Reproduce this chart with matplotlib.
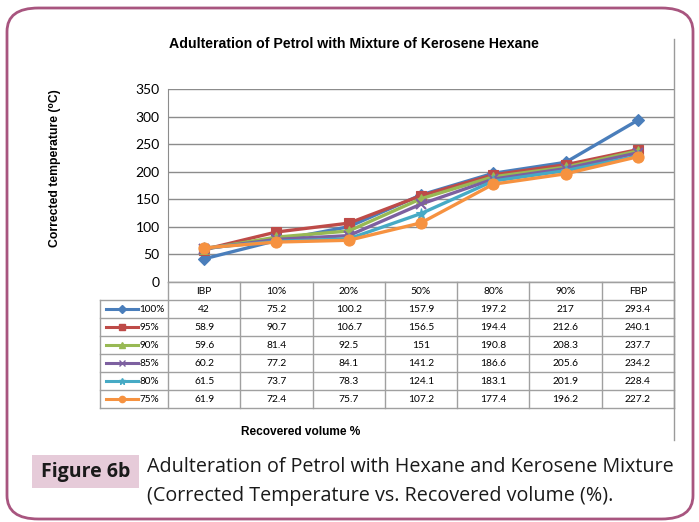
import matplotlib
matplotlib.use("Agg")
import matplotlib.pyplot as plt
from matplotlib.patches import FancyBboxPatch, Rectangle
from matplotlib.lines import Line2D

categories = ["IBP", "10%", "20%", "50%", "80%", "90%", "FBP"]
series_names = ["100%", "95%", "90%", "85%", "80%", "75%"]
s100 = [42, 75.2, 100.2, 157.9, 197.2, 217, 293.4]
s95 = [58.9, 90.7, 106.7, 156.5, 194.4, 212.6, 240.1]
s90 = [59.6, 81.4, 92.5, 151, 190.8, 208.3, 237.7]
s85 = [60.2, 77.2, 84.1, 141.2, 186.6, 205.6, 234.2]
s80 = [61.5, 73.7, 78.3, 124.1, 183.1, 201.9, 228.4]
s75 = [61.9, 72.4, 75.7, 107.2, 177.4, 196.2, 227.2]
series = [s100, s95, s90, s85, s80, s75]
yticks = [0, 50, 100, 150, 200, 250, 300, 350]

colors = ["#4a7ebb", "#be4b48", "#98b954", "#7d60a0", "#46aac5", "#f69240"]
markers = ["D", "s", "^", "x", "*", "o"]
msizes = [6, 7, 7, 7, 8, 8]

W, H = 699, 522
fig = plt.figure(figsize=(W / 100, H / 100), dpi=100)

def fx(px):
    return px / W

def fy(py):
    return 1 - py / H

# outer rounded border
border = FancyBboxPatch((fx(7), fy(519)), fx(686), (519 - 8) / H,
                        boxstyle="round,pad=0,rounding_size=0.045",
                        transform=fig.transFigure, fill=False,
                        edgecolor="#a8557f", linewidth=2.0)
fig.patches.append(border)

# chart image right edge
fig.add_artist(Line2D([fx(674), fx(674)], [fy(39), fy(440)],
                      transform=fig.transFigure, color="#9a9a9a", lw=1.0))

L, R, T, B = 168, 674, 89, 282
ax = fig.add_axes([fx(L), fy(B), fx(R - L), (B - T) / H])
x = list(range(len(categories)))
for vals, c, m, ms in zip(series, colors, markers, msizes):
    ax.plot(x, vals, color=c, lw=2.4, marker=m, markersize=ms,
            markeredgewidth=1.5 if m in ("x",) else 0.8,
            markeredgecolor=c, markerfacecolor=c, zorder=3)
ax.set_xlim(-0.5, len(categories) - 0.5)
ax.set_ylim(0, 350)
ax.set_yticks(yticks)
ax.set_yticklabels([str(v) for v in yticks], fontsize=10, family="Lato")
ax.set_xticks([])
ax.grid(axis="y", color="#8c8c8c", lw=1.0)
ax.set_axisbelow(True)
for sp in ["top", "right"]:
    ax.spines[sp].set_visible(False)
ax.spines["left"].set_color("#8c8c8c")
ax.spines["bottom"].set_color("#8c8c8c")
ax.tick_params(axis="y", length=0, pad=6)

# table axes sharing x scale
row_h = 18
n_rows = len(series) + 1
tax = fig.add_axes([fx(L), fy(B + row_h * n_rows), fx(R - L), row_h * n_rows / H])
tax.set_xlim(-0.5, len(categories) - 0.5)
tax.set_ylim(n_rows, 0)
tax.axis("off")
gc = "#a0a0a0"
col_w = (R - L) / len(categories)
leg_left = -0.5 - (L - 100) / col_w
# horizontal lines
tax.plot([-0.5, len(categories) - 0.5], [0, 0], color=gc, lw=1, clip_on=False)
for r in range(1, n_rows + 1):
    tax.plot([leg_left, len(categories) - 0.5], [r, r], color=gc, lw=1, clip_on=False)
# vertical lines
for k in range(len(categories) + 1):
    tax.plot([k - 0.5, k - 0.5], [0, n_rows], color=gc, lw=1, clip_on=False)
tax.plot([leg_left, leg_left], [1, n_rows], color=gc, lw=1, clip_on=False)

for i, c in enumerate(categories):
    tax.text(i, 0.5, c, ha="center", va="center", fontsize=7.4, family="Lato")
for r, (name, vals, c, m) in enumerate(zip(series_names, series, colors, markers)):
    yy = r + 1.5
    x0 = leg_left + 6 / col_w
    x1 = leg_left + 38 / col_w
    tax.plot([x0, x1], [yy, yy], color=c, lw=2.2, clip_on=False)
    tax.plot([(x0 + x1) / 2], [yy], color=c, marker=m, markersize=4.5,
             markeredgecolor=c, markeredgewidth=1.0, clip_on=False)
    tax.text(x1 + 1.5 / col_w, yy, name, ha="left", va="center", fontsize=7.2, family="Lato")
    for i, v in enumerate(vals):
        tax.text(i, yy, f"{v:g}", ha="center", va="center", fontsize=7.4, family="Lato")

# titles
fig.text(fx(354), fy(44), "Adulteration of Petrol with Mixture of Kerosene Hexane",
         ha="center", va="center", fontsize=10.2, fontweight="bold",
         family=["Liberation Sans", "DejaVu Sans"])
fig.text(fx(55), fy(168), "Corrected temperature (\u2070C)", rotation=90,
         ha="center", va="center", fontsize=8.8, fontweight="bold",
         family=["Liberation Sans", "DejaVu Sans"])
fig.text(fx(301), fy(432), "Recovered volume %", ha="center", va="center",
         fontsize=8.6, fontweight="bold", family=["Liberation Sans", "DejaVu Sans"])

# caption
fig.patches.append(Rectangle((fx(32), fy(488)), fx(107), 33 / H,
                             transform=fig.transFigure, facecolor="#e6cbd9",
                             edgecolor="none"))
fig.text(fx(85.5), fy(472), "Figure 6b", ha="center", va="center",
         fontsize=14, fontweight="bold", family="Open Sans", color="#1a1a1a")
fig.text(fx(147), fy(467), "Adulteration of Petrol with Hexane and Kerosene Mixture",
         ha="left", va="center", fontsize=14.2, family="Open Sans", color="#1a1a1a")
fig.text(fx(147), fy(496), "(Corrected Temperature vs. Recovered volume (%).",
         ha="left", va="center", fontsize=14.2, family="Open Sans", color="#1a1a1a")

fig.savefig("out.png", dpi=100)
